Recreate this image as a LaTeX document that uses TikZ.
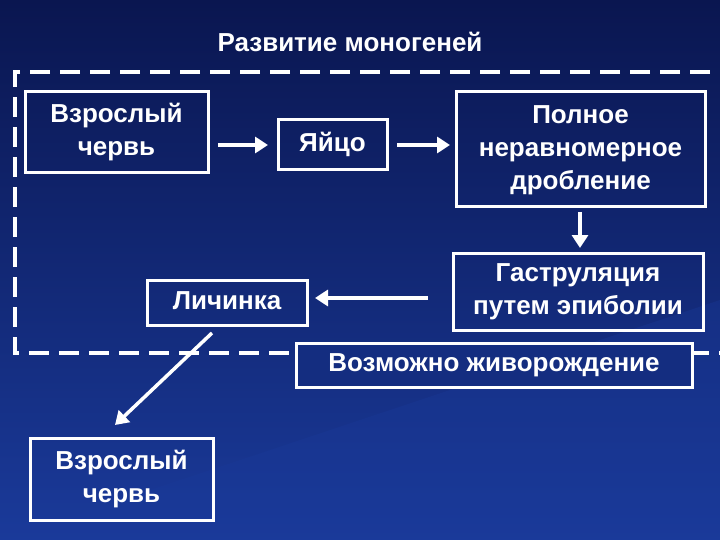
\documentclass[tikz,border=0pt]{standalone}
\usepackage{fontspec}
\setmainfont{Liberation Sans}
\usetikzlibrary{arrows.meta}
\definecolor{bgA}{HTML}{0A1650}
\definecolor{bgB}{HTML}{1A3A9A}
\newcommand\bxtext[1]{\raisebox{-4pt}{\begin{tabular}{@{}c@{}}#1\end{tabular}}}
\begin{document}
\begin{tikzpicture}[x=1pt,y=-1pt,
  box/.style={draw=white,line width=3pt,text=white,font=\bfseries\fontsize{26}{33}\selectfont,inner sep=0pt},
  arr/.style={draw=white,line width=3.5pt,-{Triangle[length=13pt,width=16pt]}}]
\shade[left color=bgA,right color=bgB,shading angle=0] (0,0) rectangle (720,540);
\fill[bgB,opacity=0.35] (0,540) -- (720,300) -- (720,540) -- cycle;
\useasboundingbox (0,0) rectangle (720,540);
\node[text=white,font=\bfseries\fontsize{26}{30}\selectfont] (t) at (350,42) {Развитие моногеней};
\draw[white,line width=4.5pt,dash pattern=on 20pt off 10pt] (740,72) -- (15,72) -- (15,353) -- (740,353);
\node[box,minimum width=183pt,minimum height=81pt] (a) at (116.5,132.5) {\bxtext{Взрослый\\червь}};
\node[box,minimum width=109pt,minimum height=50pt] (b) at (332.5,145) {\bxtext{Яйцо}};
\node[box,minimum width=249pt,minimum height=115pt] (c) at (580.5,149.5) {\bxtext{Полное\\неравномерное\\дробление}};
\node[box,minimum width=250pt,minimum height=77pt] (d) at (578,291.5) {\bxtext{Гаструляция\\путем эпиболии}};
\node[box,minimum width=160pt,minimum height=45pt] (e) at (227,302.5) {\bxtext{Личинка}};
\node[box,fill=bgB!65!bgA,minimum width=396pt,minimum height=44pt] (f) at (494,365) {\bxtext{Возможно живорождение}};
\node[box,minimum width=183pt,minimum height=82pt] (g) at (121.5,479) {\bxtext{Взрослый\\червь}};
\coordinate (p1) at (218,145); \coordinate (p2) at (268,145);
\coordinate (p3) at (397,145); \coordinate (p4) at (450,145);
\coordinate (p5) at (580,212); \coordinate (p6) at (580,248);
\coordinate (p7) at (428,298); \coordinate (p8) at (315,298);
\coordinate (s) at (212,333); \coordinate (s2) at (115,425);
\draw[arr] (p1) -- (p2);
\draw[arr] (p3) -- (p4);
\draw[arr] (p5) -- (p6);
\draw[arr] (p7) -- (p8);
\draw[arr] (s) -- (s2);
\end{tikzpicture}
\end{document}
